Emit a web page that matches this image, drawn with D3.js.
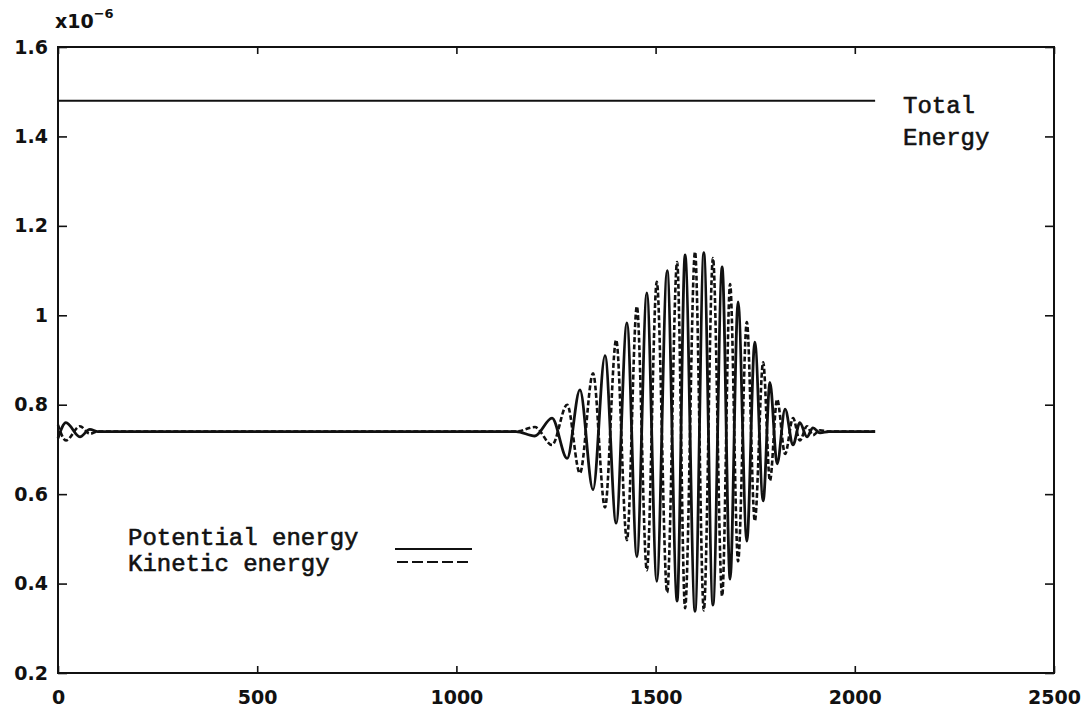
<!DOCTYPE html>
<html>
  <head>
    <meta charset="utf-8">
    <script src="https://cdn.jsdelivr.net/npm/d3@7"></script>
    <style type="text/css">
      body { margin: 0; background: #fff; }
      .axis text {
      font-family: "DejaVu Sans", sans-serif;
      font-weight: bold;
      font-size: 19px;
      fill: #111;
      }
      .axis line { stroke: #111; stroke-width: 1.6; }
      .axis path { display: none; }
      .label {
      font-family: "Liberation Mono", "DejaVu Sans Mono", monospace;
      font-size: 24px;
      fill: #111;
      stroke: #111;
      stroke-width: 0.6;
      }
    </style>
  </head>
  <body>
    <div class="plot_canvas"></div>
    <script>
      // x and y ticks
      var xTicks = [0, 500, 1000, 1500, 2000, 2500];
      var yTicks = [0.2, 0.4, 0.6, 0.8, 1.0, 1.2, 1.4, 1.6];
      var yLabels = ["0.2", "0.4", "0.6", "0.8", "1", "1.2", "1.4", "1.6"];

      // total energy (flat)
      var totalT = [0, 2051];
      var totalV = [1.48, 1.48];

      // extrema, potential (solid) & kinetic (dashed), x1e-6
      var times = [0, 20, 55, 80, 100, 1150, 1197, 1240, 1278, 1310, 1343, 1373, 1401, 1428,
                   1453, 1478, 1503, 1529, 1554, 1574, 1599, 1621, 1644, 1667, 1687, 1707,
                   1729, 1749, 1770, 1787, 1805, 1825, 1845, 1862, 1880, 1895, 1913, 1935, 2051];
      var potential = [0.725, 0.760, 0.728, 0.745, 0.740, 0.740, 0.730, 0.770, 0.680, 0.833,
                       0.610, 0.910, 0.535, 0.983, 0.460, 1.050, 0.405, 1.100, 0.361, 1.135,
                       0.338, 1.140, 0.352, 1.108, 0.410, 1.030, 0.495, 0.940, 0.585, 0.850,
                       0.668, 0.790, 0.710, 0.760, 0.728, 0.748, 0.737, 0.740, 0.740];
      var kinetic = [0.755, 0.720, 0.752, 0.735, 0.740, 0.740, 0.750, 0.710, 0.800, 0.647,
                     0.870, 0.570, 0.945, 0.497, 1.020, 0.430, 1.075, 0.380, 1.119, 0.345,
                     1.142, 0.340, 1.128, 0.372, 1.070, 0.450, 0.985, 0.540, 0.895, 0.630,
                     0.812, 0.690, 0.770, 0.720, 0.752, 0.732, 0.743, 0.740, 0.740];

      var legendNames = ["Potential energy", "Kinetic energy"];

      var width = 1090;
      var height = 712;
      var margin = {top: 47, right: 36, bottom: 39, left: 58};
      var w = width - margin.left - margin.right;
      var h = height - margin.top - margin.bottom;

      var xScale = d3.scaleLinear().domain([0, 2500]).range([margin.left, margin.left + w]);
      var yScale = d3.scaleLinear().domain([0.2, 1.6]).range([margin.top + h, margin.top]);

      var svg = d3.select(".plot_canvas")
      .append("svg")
      .attr("width", width)
      .attr("height", height);

      // axes, ticks pointing inward
      svg.append("g").attr("class", "axis")
      .attr("transform", "translate(" + margin.left + ",0)")
      .call(d3.axisLeft(yScale).tickValues(yTicks).tickSizeInner(-9).tickSizeOuter(0).tickPadding(10)
            .tickFormat(function(d, i) { return yLabels[i]; }));
      svg.append("g").attr("class", "axis")
      .attr("transform", "translate(" + (margin.left + w) + ",0)")
      .call(d3.axisRight(yScale).tickValues(yTicks).tickSizeInner(-9).tickSizeOuter(0).tickFormat(""));
      svg.append("g").attr("class", "axis")
      .attr("transform", "translate(0," + (margin.top + h) + ")")
      .call(d3.axisBottom(xScale).tickValues(xTicks).tickSizeInner(-7).tickSizeOuter(0).tickPadding(18)
            .tickFormat(d3.format("d")));
      svg.append("g").attr("class", "axis")
      .attr("transform", "translate(0," + margin.top + ")")
      .call(d3.axisTop(xScale).tickValues(xTicks).tickSizeInner(-7).tickSizeOuter(0).tickFormat(""));

      // frame
      svg.append("rect")
      .attr("x", margin.left).attr("y", margin.top)
      .attr("width", w).attr("height", h)
      .attr("fill", "none").attr("stroke", "#111").attr("stroke-width", 2);

      // exponent
      var expo = svg.append("text").attr("x", 55).attr("y", 28)
      .style("font-family", "DejaVu Sans").style("font-weight", "bold").style("font-size", "19px")
      .attr("fill", "#111");
      expo.append("tspan").text("x10");
      expo.append("tspan").attr("dy", -10).style("font-size", "13px").text("\u22126");

      var line = d3.line()
      .x(function(d) { return xScale(d[0]); })
      .y(function(d) { return yScale(d[1]); })
      .curve(d3.curveMonotoneX);

      svg.append("path")
      .attr("d", line(times.map(function(t, i) { return [t, kinetic[i]]; })))
      .attr("fill", "none").attr("stroke", "#111").attr("stroke-width", 2.6)
      .attr("stroke-dasharray", "5,2.5");

      svg.append("path")
      .attr("d", line(times.map(function(t, i) { return [t, potential[i]]; })))
      .attr("fill", "none").attr("stroke", "#111").attr("stroke-width", 2.8);

      svg.append("path")
      .attr("d", d3.line().x(function(d) { return xScale(d[0]); }).y(function(d) { return yScale(d[1]); })
            (totalT.map(function(t, i) { return [t, totalV[i]]; })))
      .attr("fill", "none").attr("stroke", "#111").attr("stroke-width", 2);

      svg.append("text").attr("class", "label").attr("x", 903).attr("y", 113).text("Total");
      svg.append("text").attr("class", "label").attr("x", 903).attr("y", 145).text("Energy");

      // legend
      svg.append("text").attr("class", "label").attr("x", 128).attr("y", 545).text(legendNames[0]);
      svg.append("text").attr("class", "label").attr("x", 128).attr("y", 571).text(legendNames[1]);
      svg.append("line").attr("x1", 395).attr("x2", 472).attr("y1", 549).attr("y2", 549)
      .attr("stroke", "#111").attr("stroke-width", 2);
      svg.append("line").attr("x1", 397).attr("x2", 472).attr("y1", 562).attr("y2", 562)
      .attr("stroke", "#111").attr("stroke-width", 2).attr("stroke-dasharray", "11,4");
    </script>
  </body>
</html>
